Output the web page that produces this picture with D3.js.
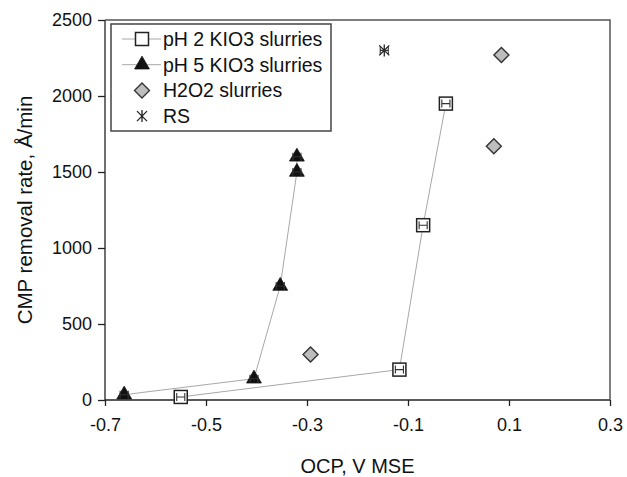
<!DOCTYPE html>
<html>
<head>
<meta charset="utf-8">
<script src="https://cdn.jsdelivr.net/npm/d3@7"></script>
<style>
    body { margin: 0; background: #fff; }
    svg { font-family: "Liberation Sans", Arial, sans-serif; }
    .label { fill: #111; }
</style>
</head>
<body>
<script>
const width = 627;
const height = 477;
const margin = { top: 20, right: 17, bottom: 77, left: 105 };

// data
const ph2Ocp = [-0.55, -0.117, -0.07, -0.025];
const ph2Rate = [20, 200, 1150, 1950];
const ph5Ocp = [-0.662, -0.405, -0.353, -0.32, -0.32];
const ph5Rate = [35, 140, 750, 1500, 1600];
const h2o2Ocp = [-0.293, 0.07, 0.085];
const h2o2Rate = [300, 1670, 2270];
const rsOcp = [-0.147];
const rsRate = [2300];
const ocpErr = 0.008; // tiny x error bars hidden in the markers
const xTicks = [-0.7, -0.5, -0.3, -0.1, 0.1, 0.3];
const yTicks = [0, 500, 1000, 1500, 2000, 2500];
const legendNames = ["pH 2 KIO3 slurries", "pH 5 KIO3 slurries", "H2O2 slurries", "RS"];

var svg;
var x_scale, y_scale;

function zip(xs, ys) {
    return xs.map(function (x, i) { return { x: x, y: ys[i] }; });
}

function generateScale() {
    x_scale = d3.scaleLinear().domain([-0.7, 0.3]).range([margin.left, width - margin.right]);
    y_scale = d3.scaleLinear().domain([0, 2500]).range([height - margin.bottom, margin.top]);
}

function generateAxis() {
    var x_axis = d3.axisBottom(x_scale).tickValues(xTicks).tickSize(6).tickPadding(12)
        .tickFormat(function (d) { return d.toFixed(1); });
    var y_axis = d3.axisLeft(y_scale).tickValues(yTicks).tickSize(7).tickPadding(6)
        .tickFormat(function (d) { return String(d); });

    var gx = svg.append("g")
        .attr("transform", "translate(0, " + (height - margin.bottom) + ")")
        .call(x_axis);
    var gy = svg.append("g")
        .attr("transform", "translate(" + margin.left + ", 0)")
        .call(y_axis);
    [gx, gy].forEach(function (g) {
        g.selectAll("path").attr("stroke", "#222").attr("stroke-width", 1.3);
        g.selectAll("line").attr("stroke", "#222").attr("stroke-width", 1.3);
        g.selectAll("text").attr("class", "label").style("font-size", "18px");
        g.select(".domain").attr("d", g === gx
            ? "M" + margin.left + ",0H" + (width - margin.right)
            : "M0," + (height - margin.bottom) + "V" + margin.top);
    });

    // frame top and right
    svg.append("path")
        .attr("d", "M" + margin.left + "," + margin.top + "H" + (width - margin.right) +
            "V" + (height - margin.bottom))
        .attr("fill", "none")
        .attr("stroke", "#555")
        .attr("stroke-width", 1.5);

    svg.append("text")
        .attr("class", "label")
        .attr("x", (margin.left + width - margin.right) / 2)
        .attr("y", height - 4)
        .attr("text-anchor", "middle")
        .style("font-size", "20px")
        .text("OCP, V MSE");

    svg.append("text")
        .attr("class", "label")
        .attr("transform", "translate(32, " + (margin.top + height - margin.bottom) / 2 + ") rotate(-90)")
        .attr("text-anchor", "middle")
        .style("font-size", "20.5px")
        .text("CMP removal rate, \u00c5/min");
}

// marker drawing helpers
function square(g) {
    g.append("rect").attr("x", -6.5).attr("y", -6.5).attr("width", 13).attr("height", 13)
        .attr("fill", "#fff").attr("stroke", "#222").attr("stroke-width", 1.5);
}
function triangle(g) {
    g.append("path").attr("d", d3.symbol(d3.symbolTriangle, 95)())
        .attr("fill", "#111").attr("stroke", "#111").attr("stroke-width", 0.8);
}
function diamond(g) {
    g.append("path").attr("d", "M0,-7.5L7.5,0L0,7.5L-7.5,0Z")
        .attr("fill", "#bdbdbd").attr("stroke", "#333").attr("stroke-width", 1.4);
}
function asterisk(g) {
    g.append("path").attr("d", "M0,-6V6M-5,-5L5,5M-5,5L5,-5")
        .attr("stroke", "#222").attr("stroke-width", 1.3);
}

function errorBars(g, pts) {
    var w = x_scale(ocpErr) - x_scale(0);
    g.selectAll(null).data(pts).enter().append("path")
        .attr("d", function (d) {
            var cx = x_scale(d.x), cy = y_scale(d.y);
            return "M" + (cx - w) + "," + cy + "H" + (cx + w) +
                "M" + (cx - w) + "," + (cy - 4) + "V" + (cy + 4) +
                "M" + (cx + w) + "," + (cy - 4) + "V" + (cy + 4);
        })
        .attr("stroke", "#333").attr("stroke-width", 1.1).attr("fill", "none");
}

function generateSeries(pts, marker, withLine, withErr) {
    var g = svg.append("g");
    if (withLine) {
        g.append("path")
            .datum(pts)
            .attr("d", d3.line().x(function (d) { return x_scale(d.x); }).y(function (d) { return y_scale(d.y); }))
            .attr("fill", "none")
            .attr("stroke", "#a8a8a8")
            .attr("stroke-width", 1);
    }
    g.selectAll(".pt")
        .data(pts)
        .enter()
        .append("g")
        .attr("class", "pt")
        .attr("transform", function (d) { return "translate(" + x_scale(d.x) + "," + y_scale(d.y) + ")"; })
        .each(function () { marker(d3.select(this)); });
    if (withErr) errorBars(g, pts);
}

function generateLegend() {
    var lg = svg.append("g").attr("transform", "translate(111, 24)");
    lg.append("rect").attr("width", 220).attr("height", 107)
        .attr("fill", "#fff").attr("stroke", "#444").attr("stroke-width", 1.5);
    var markers = [square, triangle, diamond, asterisk];
    legendNames.forEach(function (name, i) {
        var row = lg.append("g").attr("transform", "translate(31, " + (15 + i * 25.7) + ")");
        if (i < 2) {
            row.append("line").attr("x1", -20).attr("x2", 19)
                .attr("stroke", "#a8a8a8").attr("stroke-width", 1);
        }
        markers[i](row);
        row.append("text")
            .attr("class", "label")
            .attr("x", 21)
            .attr("y", 7)
            .style("font-size", "19.5px")
            .text(name);
    });
}

document.addEventListener("DOMContentLoaded", function () {
    svg = d3.select("body")
        .append("svg")
        .attr("width", width)
        .attr("height", height);

    generateScale();
    generateAxis();
    generateSeries(zip(ph2Ocp, ph2Rate), square, true, true);
    generateSeries(zip(ph5Ocp, ph5Rate), triangle, true, true);
    generateSeries(zip(h2o2Ocp, h2o2Rate), diamond, false, false);
    generateSeries(zip(rsOcp, rsRate), asterisk, false, true);
    generateLegend();
});
</script>
</body>
</html>
